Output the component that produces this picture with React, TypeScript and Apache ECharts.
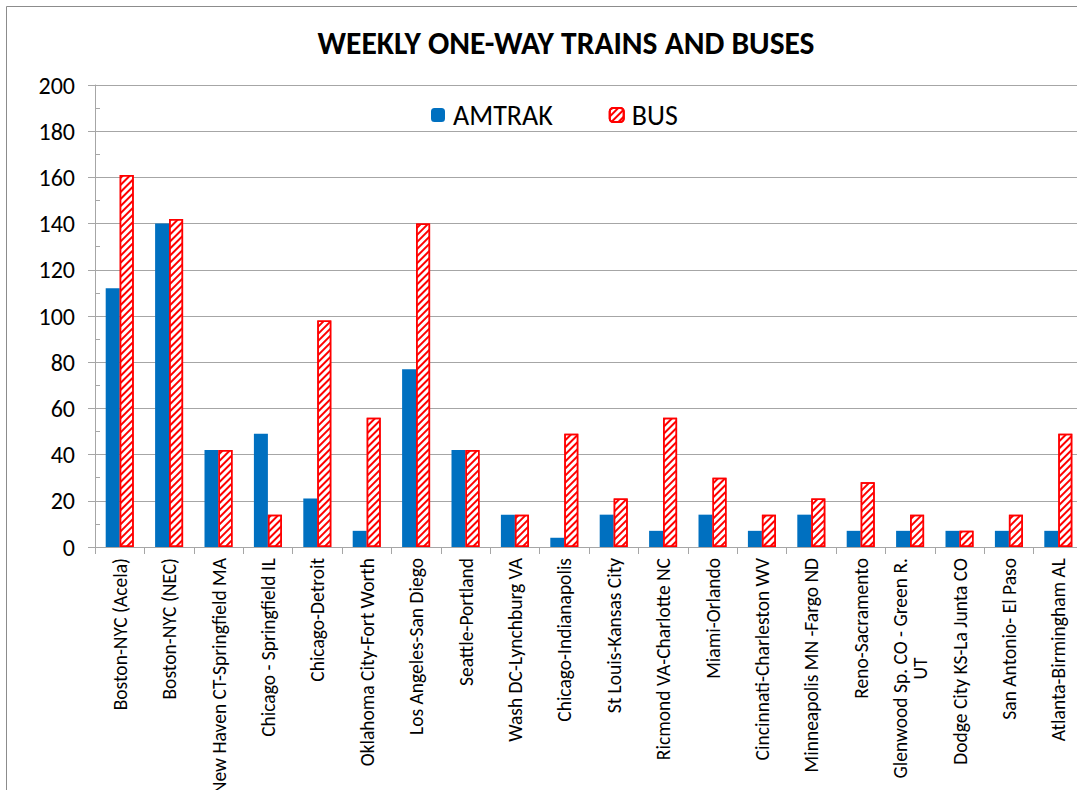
import React, { useEffect, useRef } from "react";
import * as echarts from "echarts";

const categories = [
  "Boston-NYC (Acela)",
  "Boston-NYC (NEC)",
  "New Haven CT-Springfield MA",
  "Chicago - Springfield IL",
  "Chicago-Detroit",
  "Oklahoma City-Fort Worth",
  "Los Angeles-San Diego",
  "Seattle-Portland",
  "Wash DC-Lynchburg VA",
  "Chicago-Indianapolis",
  "St Louis-Kansas City",
  "Ricmond VA-Charlotte NC",
  "Miami-Orlando",
  "Cincinnati-Charleston WV",
  "Minneapolis MN -Fargo ND",
  "Reno-Sacramento",
  "Glenwood Sp. CO - Green R. UT",
  "Dodge City KS-La Junta CO",
  "San Antonio- El Paso",
  "Atlanta-Birmingham AL",
];

const amtrak = [112, 140, 42, 49, 21, 7, 77, 42, 14, 4, 14, 7, 14, 7, 14, 7, 7, 7, 7, 7];
const bus = [161, 142, 42, 14, 98, 56, 140, 42, 14, 49, 21, 56, 30, 14, 21, 28, 14, 7, 14, 49];

const yTicks = [0, 200, 20];
const titleText = "WEEKLY ONE-WAY TRAINS AND BUSES";
const FONT = 'Carlito, "Open Sans", sans-serif';
const wrapName = "Glenwood Sp. CO - Green R. UT";
const wrapFirst = "Glenwood Sp. CO - Green R.";

function measure(text: string, font: string): number {
  const c = document.createElement("canvas").getContext("2d");
  if (!c) return 200;
  c.font = font;
  return c.measureText(text).width;
}

export default function App() {
  const ref = useRef<HTMLDivElement>(null);
  useEffect(() => {
    if (!ref.current) return;
    const chart = echarts.init(ref.current, undefined, { renderer: "svg" });
    const gridColor = "#a6a6a6";
    const xFont = 19.5;
    const firstW = Math.ceil(measure(wrapFirst, `${xFont}px ${FONT}`));
    chart.setOption({
      animation: false,
      backgroundColor: "#ffffff",
      textStyle: { fontFamily: FONT },
      graphic: [
        {
          type: "rect",
          shape: { x: 6.5, y: 6.5, width: 1200, height: 1000 },
          style: { fill: "none", stroke: "#8c8c8c", lineWidth: 1 },
          silent: true,
          z: -1,
        },
        {
          type: "text",
          x: 566,
          y: 43,
          style: {
            text: titleText,
            fill: "#000",
            font: `bold 31.5px ${FONT}`,
            textAlign: "center",
            textVerticalAlign: "middle",
          },
        },
      ],
      legend: {
        data: ["AMTRAK", "BUS"],
        left: 426,
        top: 96,
        itemWidth: 14,
        itemHeight: 14,
        itemGap: 56,
        textStyle: { fontSize: 28, color: "#000", fontFamily: FONT, padding: [0, 0, 0, 3] },
      },
      grid: {
        left: 95,
        right: -6,
        top: 85,
        bottom: 243,
        containLabel: false,
        outerBoundsMode: "none",
      },
      xAxis: {
        type: "category",
        data: categories,
        axisLine: { lineStyle: { color: gridColor } },
        axisTick: { show: true, length: 7, lineStyle: { color: gridColor } },
        axisLabel: {
          interval: 0,
          rotate: 90,
          margin: 11,
          fontSize: xFont,
          color: "#000",
          fontFamily: FONT,
          hideOverlap: false,
          formatter: (v: string) =>
            v === wrapName ? `${wrapFirst}\n{u|UT}` : v,
          rich: {
            u: { fontSize: xFont, color: "#000", fontFamily: FONT, width: firstW, align: "center" },
          },
        },
      },
      yAxis: [
        {
          type: "value",
          min: yTicks[0],
          max: yTicks[1],
          interval: yTicks[2],
          axisLine: { show: true, lineStyle: { color: gridColor } },
          axisTick: { show: true, length: 7, lineStyle: { color: gridColor } },
          axisLabel: { fontSize: 24, color: "#000", margin: 20, fontFamily: FONT },
          splitLine: { show: true, lineStyle: { color: gridColor, width: 1 } },
        },
        {
          type: "value",
          position: "left",
          min: yTicks[0],
          max: yTicks[1],
          interval: yTicks[2] / 2,
          axisLine: { show: false },
          axisTick: { show: true, inside: true, length: 5, lineStyle: { color: gridColor } },
          axisLabel: { show: false },
          splitLine: { show: false },
        },
      ],
      series: [
        {
          name: "AMTRAK",
          type: "bar",
          data: amtrak,
          barWidth: 14,
          barGap: "0%",
          itemStyle: { color: "#0070C0" },
        },
        {
          name: "BUS",
          type: "bar",
          data: bus,
          barWidth: 14,
          barGap: "0%",
          itemStyle: {
            color: "#ffffff",
            borderColor: "#FF0000",
            borderWidth: 1.5,
            decal: {
              symbol: "rect",
              symbolSize: 1,
              color: "#FF0000",
              backgroundColor: "#ffffff",
              dashArrayX: [1, 0],
              dashArrayY: [2, 2.5],
              rotation: -Math.PI / 4,
            },
          },
        },
      ],
    });
    return () => chart.dispose();
  }, []);
  return (
    <div
      ref={ref}
      style={{ position: "absolute", left: 0, top: 0, width: 1077, height: 790, background: "#fff" }}
    />
  );
}
